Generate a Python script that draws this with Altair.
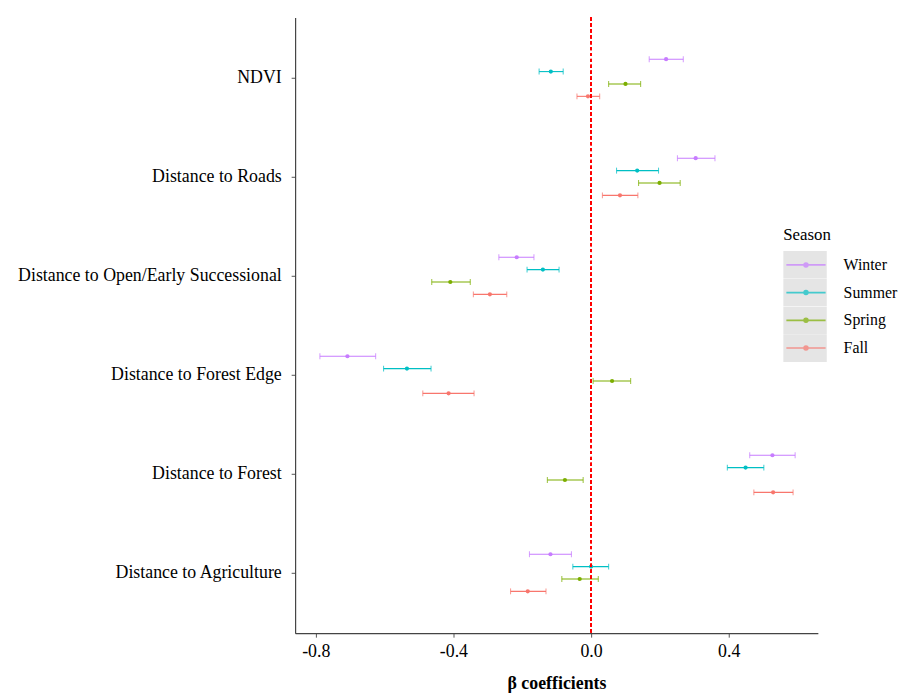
import altair as alt
import pandas as pd

variables = [
    "NDVI",
    "Distance to Roads",
    "Distance to Open/Early Successional",
    "Distance to Forest Edge",
    "Distance to Forest",
    "Distance to Agriculture",
]
seasons = ["Winter", "Summer", "Spring", "Fall"]
season_colors = ["#C77CFF", "#00BFC4", "#7CAE00", "#F8766D"]

winter_est = [0.218, 0.304, -0.216, -0.708, 0.527, -0.118]
winter_lo = [0.169, 0.251, -0.268, -0.788, 0.461, -0.179]
winter_hi = [0.268, 0.360, -0.166, -0.626, 0.593, -0.057]

summer_est = [-0.117, 0.134, -0.140, -0.535, 0.449, 0.000]
summer_lo = [-0.151, 0.074, -0.186, -0.603, 0.396, -0.053]
summer_hi = [-0.081, 0.196, -0.093, -0.465, 0.502, 0.051]

spring_est = [0.100, 0.199, -0.409, 0.061, -0.076, -0.033]
spring_lo = [0.051, 0.138, -0.463, 0.006, -0.127, -0.085]
spring_hi = [0.144, 0.259, -0.351, 0.115, -0.023, 0.021]

fall_est = [-0.009, 0.084, -0.294, -0.414, 0.529, -0.184]
fall_lo = [-0.041, 0.033, -0.342, -0.489, 0.473, -0.234]
fall_hi = [0.025, 0.136, -0.245, -0.340, 0.587, -0.131]

series = {
    "Winter": (winter_est, winter_lo, winter_hi),
    "Summer": (summer_est, summer_lo, summer_hi),
    "Spring": (spring_est, spring_lo, spring_hi),
    "Fall": (fall_est, fall_lo, fall_hi),
}
rows = []
for s in seasons:
    est, lo, hi = series[s]
    for v, e, l, h in zip(variables, est, lo, hi):
        rows.append(dict(Variable=v, Season=s, SeasonBg=s, est=e, lo=l, hi=h))
df = pd.DataFrame(rows)

FONT = "Liberation Serif"

xscale = alt.Scale(domain=[-0.86, 0.659], nice=False, zero=False)
x_axis = alt.Axis(
    values=[-0.8, -0.4, 0.0, 0.4],
    labelExpr="datum.value < 0 ? '-' + format(-datum.value, '.1f') : format(datum.value, '.1f')",
    grid=False,
    title="β coefficients",
)
y_enc = alt.Y(
    "Variable:N",
    sort=variables,
    scale=alt.Scale(paddingInner=0, paddingOuter=0.11),
    axis=alt.Axis(title=None, grid=False, labelLimit=0),
)
yoff = alt.YOffset(
    "Season:N", sort=seasons, scale=alt.Scale(range=[25, 75], paddingInner=0, paddingOuter=0)
)
color = alt.Color(
    "Season:N",
    sort=seasons,
    scale=alt.Scale(domain=seasons, range=season_colors),
    legend=alt.Legend(
        orient="none",
        legendX=493,
        legendY=212,
        title="Season",
        titleFont=FONT,
        titleFontSize=17,
        titleFontWeight="normal",
        titleColor="black",
        titlePadding=7,
        symbolType="M-0.9,0H0.9M-0.09,0A0.09,0.09,0,1,1,0.09,0A0.09,0.09,0,1,1,-0.09,0",
        symbolSize=1936,
        symbolStrokeWidth=1.6,
        symbolOffset=0,
        clipHeight=28,
        labelFont=FONT,
        labelFontSize=16,
        labelColor="black",
        labelOffset=15,
        rowPadding=0,
        padding=0,
    ),
)

base = alt.Chart(df)

bg = base.mark_square(opacity=0).encode(
    x=alt.X("est:Q", scale=xscale, axis=x_axis),
    y=y_enc,
    fill=alt.Fill(
        "SeasonBg:N",
        sort=seasons,
        scale=alt.Scale(range=["#E5E5E5"]),
        legend=alt.Legend(
            orient="none",
            legendX=493,
            legendY=236,
            title=None,
            symbolType="M-1,-0.64H1V0.64H-1Z",
            symbolSize=1936,
            symbolStrokeWidth=0,
            symbolOpacity=1,
            symbolOffset=0,
            clipHeight=28,
            labelExpr="''",
            rowPadding=0,
            padding=0,
        ),
    ),
)

bars = base.mark_rule(strokeWidth=1.1).encode(
    x=alt.X("lo:Q", scale=xscale, axis=x_axis),
    x2="hi:Q",
    y=y_enc,
    yOffset=yoff,
    color=color,
)
cap_lo = base.mark_tick(size=6, thickness=1.1).encode(
    x=alt.X("lo:Q", scale=xscale), y=y_enc, yOffset=yoff, color=color
)
cap_hi = base.mark_tick(size=6, thickness=1.1).encode(
    x=alt.X("hi:Q", scale=xscale), y=y_enc, yOffset=yoff, color=color
)
pts = base.mark_point(filled=True, size=18, opacity=1).encode(
    x=alt.X("est:Q", scale=xscale), y=y_enc, yOffset=yoff, color=color
)
zero = alt.Chart(df).mark_rule(color="#FF0000", strokeDash=[3, 3], strokeWidth=1).encode(
    x=alt.datum(0)
)

chart = (
    alt.layer(bg, bars, cap_lo, cap_hi, pts, zero)
    .properties(width=528, height=622, padding={"top": 5, "left": 9, "right": 5, "bottom": 5})
    .configure_view(stroke=None)
    .configure_axis(
        labelFont=FONT,
        labelFontSize=18,
        labelColor="black",
        titleFont=FONT,
        titleFontSize=18,
        titleColor="black",
        domainColor="#444444",
        domainWidth=1.2,
        tickColor="#555555",
        tickSize=4,
        labelPadding=6,
    )
    .configure_axisX(titleFontWeight="bold", titlePadding=14)
    .configure_axisY(labelPadding=10)
)

chart.save("out.html", embed_options={"renderer": "svg", "actions": False})
